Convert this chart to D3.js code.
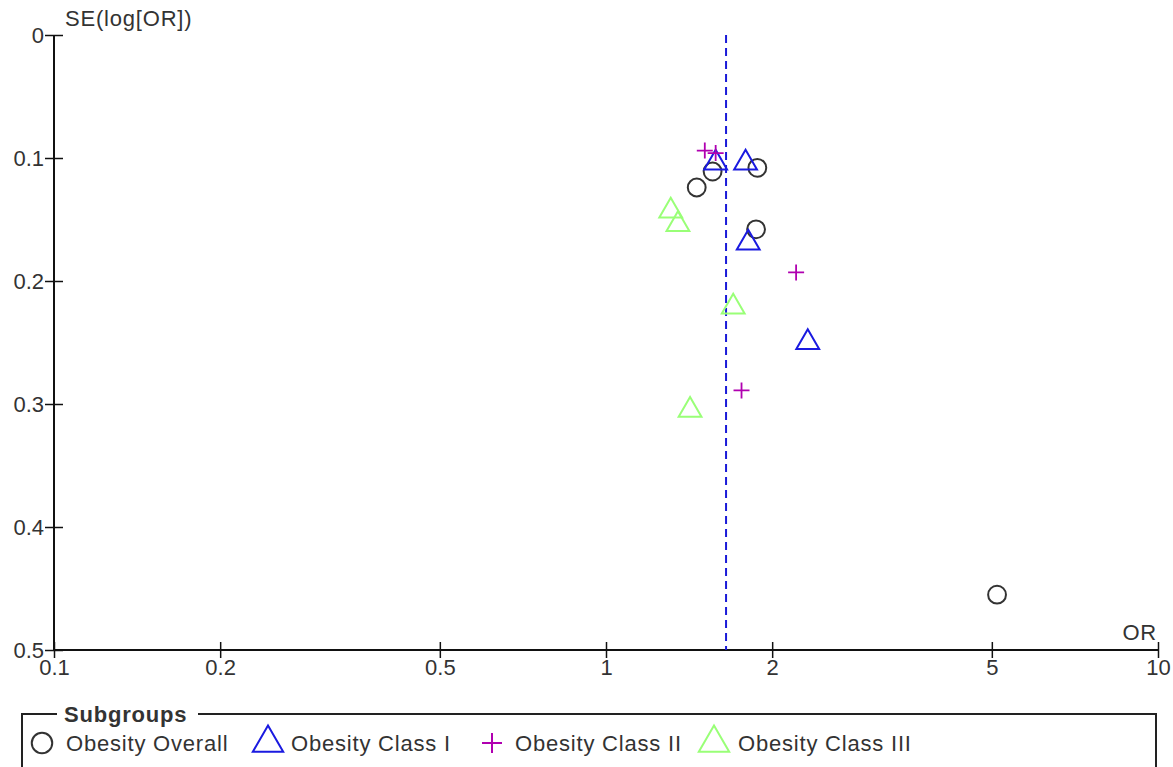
<!DOCTYPE html>
<html>
<head>
<meta charset="utf-8">
<script src="https://cdn.jsdelivr.net/npm/d3@7"></script>
<style>
  body { margin: 0; background: #fff; }
  svg text { font-family: "Liberation Sans", Arial, sans-serif; font-size: 22px; fill: #333; }
  svg text.lab { letter-spacing: 0.8px; }
</style>
</head>
<body>
<div id="chart"></div>
<script>
// funnel plot data (OR on log axis, SE on reversed axis)
var overallOR = [1.46, 1.56, 1.88, 1.87, 5.11];
var overallSE = [0.124, 0.111, 0.108, 0.158, 0.455];

var class1OR = [1.58, 1.79, 1.81, 2.32];
var class1SE = [0.104, 0.104, 0.169, 0.250];

var class2OR = [1.51, 1.58, 2.21, 1.76];
var class2SE = [0.094, 0.096, 0.193, 0.289];

var class3OR = [1.31, 1.35, 1.70, 1.42];
var class3SE = [0.143, 0.154, 0.221, 0.305];

var pooledOR = 1.65;

var xTicks = [0.1, 0.2, 0.5, 1, 2, 5, 10];
var yTicks = [0, 0.1, 0.2, 0.3, 0.4, 0.5];

var groupNames = ["Obesity Overall", "Obesity Class I", "Obesity Class II", "Obesity Class III"];

var width = 1173, height = 767;

var svg = d3.select("#chart").append("svg")
  .attr("width", width)
  .attr("height", height);

var x = d3.scaleLog().domain([0.1, 10]).range([54, 1158]);
var y = d3.scaleLinear().domain([0, 0.5]).range([35, 650]);

// axes
var xAxis = d3.axisBottom(x).tickValues(xTicks).tickFormat(d3.format("")).tickSize(8);
var yAxis = d3.axisLeft(y).tickValues(yTicks).tickFormat(function(d) { return d; }).tickSize(9);

var gx = svg.append("g").attr("transform", "translate(0,650)").call(xAxis);
var gy = svg.append("g").attr("transform", "translate(54,0)").call(yAxis);

[gx, gy].forEach(function(g) {
  g.select(".domain").attr("stroke", "#111").attr("stroke-width", 2);
  g.selectAll(".tick line").attr("stroke", "#111").attr("stroke-width", 1.5);
  g.selectAll(".tick text").attr("font-family", null).attr("font-size", null).attr("fill", null);
});
// ticks cross the axis
gx.selectAll(".tick line").attr("y1", -8);
gx.selectAll(".tick text").attr("y", 9);
gy.selectAll(".tick line").attr("x1", 9);
gy.selectAll(".tick text").attr("x", -10);
gx.select(".domain").attr("d", "M54,0H1158");
gy.select(".domain").attr("d", "M0,35V650");

svg.append("text").attr("class", "lab").attr("x", 65).attr("y", 26).text("SE(log[OR])");
svg.append("text").attr("class", "lab").attr("x", 1157).attr("y", 640).attr("text-anchor", "end").text("OR");

// pooled estimate line
svg.append("line")
  .attr("x1", x(pooledOR)).attr("x2", x(pooledOR))
  .attr("y1", y(0)).attr("y2", y(0.5))
  .attr("stroke", "#1a1ad8")
  .attr("stroke-width", 2)
  .attr("stroke-dasharray", "8,5");

var circle = d3.symbol().type(d3.symbolCircle).size(250);
var tri = d3.symbol().type(d3.symbolTriangle).size(225);
function plus(s) { return "M" + (-s) + ",0H" + s + "M0," + (-s) + "V" + s; }

function pts(ors, ses) {
  return ors.map(function(o, i) { return { or: o, se: ses[i] }; });
}

svg.append("g").selectAll("path")
  .data(pts(overallOR, overallSE)).enter().append("path")
  .attr("d", circle)
  .attr("transform", function(d) { return "translate(" + x(d.or) + "," + y(d.se) + ")"; })
  .attr("fill", "none").attr("stroke", "#333").attr("stroke-width", 2);

svg.append("g").selectAll("path")
  .data(pts(class1OR, class1SE)).enter().append("path")
  .attr("d", tri)
  .attr("transform", function(d) { return "translate(" + x(d.or) + "," + y(d.se) + ")"; })
  .attr("fill", "none").attr("stroke", "#1a1ae0").attr("stroke-width", 2);

svg.append("g").selectAll("path")
  .data(pts(class2OR, class2SE)).enter().append("path")
  .attr("d", plus(8))
  .attr("transform", function(d) { return "translate(" + x(d.or) + "," + y(d.se) + ")"; })
  .attr("fill", "none").attr("stroke", "#b000b0").attr("stroke-width", 1.8);

svg.append("g").selectAll("path")
  .data(pts(class3OR, class3SE)).enter().append("path")
  .attr("d", tri)
  .attr("transform", function(d) { return "translate(" + x(d.or) + "," + y(d.se) + ")"; })
  .attr("fill", "none").attr("stroke", "#99ff77").attr("stroke-width", 2);

// legend
var lg = svg.append("g");
lg.append("path")
  .attr("d", "M57,714H22V780M1156,780V714H198")
  .attr("fill", "none").attr("stroke", "#222").attr("stroke-width", 2);
lg.append("text").attr("class", "lab").attr("x", 64).attr("y", 722).attr("font-weight", "bold").text("Subgroups");

var legX = [42, 268, 492, 714];
var legSym = [
  { d: d3.symbol().type(d3.symbolCircle).size(330)(), stroke: "#333" },
  { d: d3.symbol().type(d3.symbolTriangle).size(400)(), stroke: "#1a1ae0" },
  { d: plus(10), stroke: "#b000b0" },
  { d: d3.symbol().type(d3.symbolTriangle).size(400)(), stroke: "#99ff77" }
];
groupNames.forEach(function(name, i) {
  lg.append("path")
    .attr("d", legSym[i].d)
    .attr("transform", "translate(" + legX[i] + "," + 743 + ")")
    .attr("fill", "none").attr("stroke", legSym[i].stroke).attr("stroke-width", 2);
  lg.append("text").attr("class", "lab").attr("x", [66, 291, 515, 738][i]).attr("y", 751).text(name);
});
</script>
</body>
</html>
